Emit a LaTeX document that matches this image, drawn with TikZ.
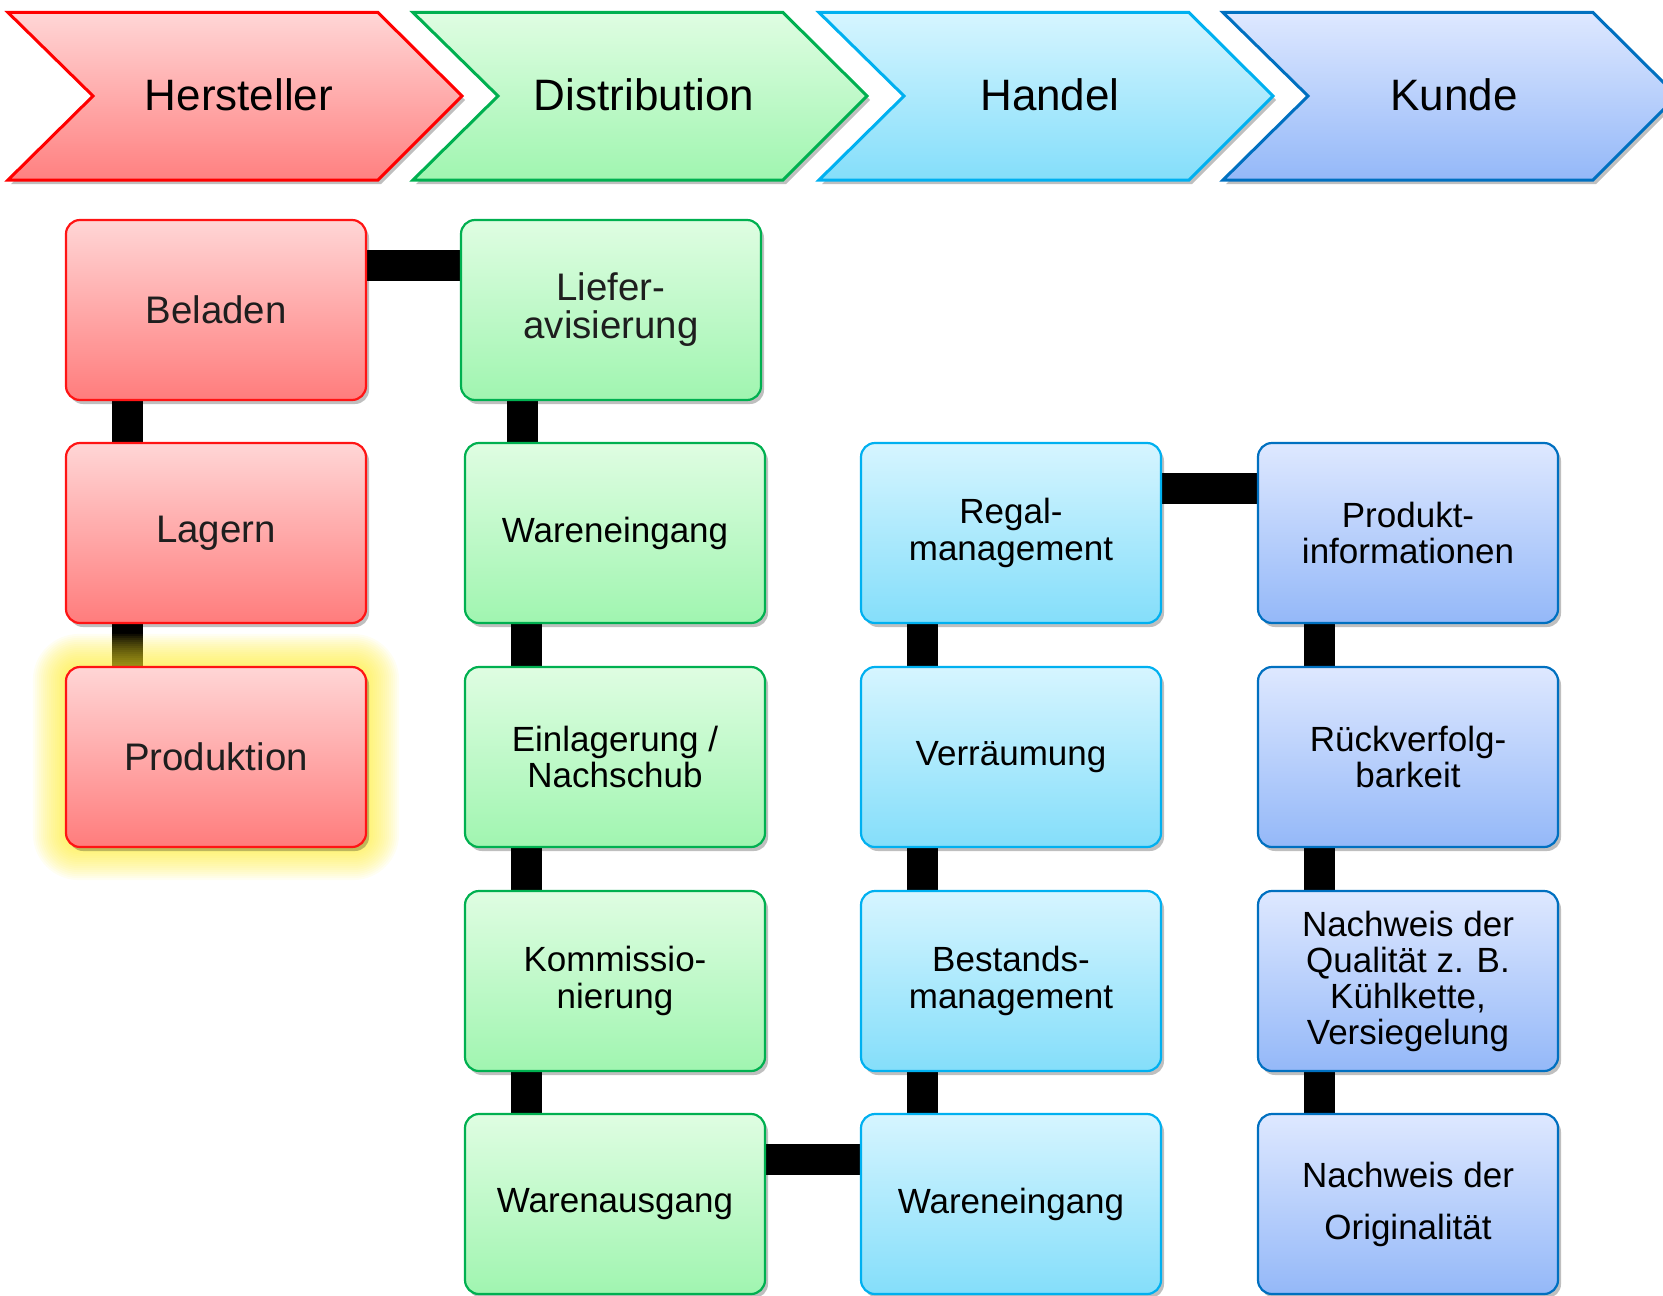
\documentclass[tikz,border=0pt]{standalone}
\usepackage{fontspec}
\setmainfont{Liberation Sans}
\usetikzlibrary{calc,shadows}
\pgfdeclarelayer{bg}
\pgfdeclarelayer{glowlayer}
\pgfsetlayers{bg,glowlayer,main}
\definecolor{rTop}{RGB}{255,214,214}
\definecolor{rBot}{RGB}{255,124,124}
\definecolor{rLine}{RGB}{255,20,20}
\definecolor{gTop}{RGB}{223,253,226}
\definecolor{gBot}{RGB}{160,245,176}
\definecolor{gLine}{RGB}{0,176,80}
\definecolor{cTop}{RGB}{214,245,255}
\definecolor{cBot}{RGB}{132,222,250}
\definecolor{cLine}{RGB}{0,176,240}
\definecolor{bTop}{RGB}{222,232,255}
\definecolor{bBot}{RGB}{148,184,248}
\definecolor{bLine}{RGB}{0,112,192}
\definecolor{rChevBot}{RGB}{255,128,128}
\definecolor{glowc}{RGB}{255,236,40}
\definecolor{softtext}{RGB}{30,30,30}
\newcommand\chevpath[1]{(#1,12.5) -- ++(370,0) -- ++(84,83.5) -- ++(-84,84) -- ++(-370,0) -- ++(85,-84) -- cycle}
\newcommand\myvconn[2]{\draw[bar] ($(#1.south west)!0.207!(#1.south east)$) coordinate (cx) -- (cx |- #2.north);}
\newcommand\myhconn[2]{\draw[bar] ($(#1.north east)!0.256!(#1.south east)$) coordinate (cx) -- (cx -| #2.west);}
\begin{document}
\begin{tikzpicture}[x=0.5pt,y=-0.5pt,
  chev/.style={line width=1.5pt, line join=miter,
    drop shadow={shadow xshift=1.5pt, shadow yshift=-2pt, opacity=0.25, fill=black}},
  chevtext/.style={font=\fontsize{22}{26}\selectfont, inner sep=0pt},
  box/.style={rectangle, rounded corners=7pt, minimum width=150pt, minimum height=90pt,
    line width=1.1pt, align=center, inner sep=2pt,
    font=\fontsize{17.5}{18.3}\selectfont,
    drop shadow={shadow xshift=1.5pt, shadow yshift=-2pt, opacity=0.25, fill=black}},
  bigtext/.style={font=\fontsize{19.2}{19}\selectfont, text=softtext},
  redbox/.style={box, draw=rLine, top color=rTop, bottom color=rBot},
  greenbox/.style={box, draw=gLine, top color=gTop, bottom color=gBot},
  cyanbox/.style={box, draw=cLine, top color=cTop, bottom color=cBot},
  bluebox/.style={box, draw=bLine, top color=bTop, bottom color=bBot},
  bar/.style={line width=15.5pt, black, line cap=butt}]
\useasboundingbox (0,0) rectangle (1663,1295);

% phase chevrons
\path[chev, draw=red, top color=rTop, bottom color=rChevBot] \chevpath{8};
\path[chev, draw=gLine, top color=gTop, bottom color=gBot] \chevpath{413};
\path[chev, draw=cLine, top color=cTop, bottom color=cBot] \chevpath{819};
\path[chev, draw=bLine, top color=bTop, bottom color=bBot] \chevpath{1223};
\node[chevtext] (hersteller) at (239,95) {Hersteller};
\node[chevtext] (distribution) at (644,95) {Distribution};
\node[chevtext] (handel) at (1050,95) {Handel};
\node[chevtext] (kunde) at (1454,95) {Kunde};

% column 1
\node[redbox, bigtext] (beladen) at (216,310) {Beladen};
\node[redbox, bigtext] (lagern) at (216,533) {Lagern};
\node[redbox, bigtext] (produktion) at (216,757) {Produktion};
% column 2
\node[greenbox, bigtext] (liefer) at (611,310) {Liefer-\\avisierung};
\node[greenbox] (wein1) at (615,533) {Wareneingang};
\node[greenbox] (einlag) at (615,757) {Einlagerung /\\Nachschub};
\node[greenbox] (kommi) at (615,981) {Kommissio-\\nierung};
\node[greenbox] (waus) at (615,1204) {Warenausgang};
% column 3
\node[cyanbox] (regal) at (1011,533) {Regal-\\management};
\node[cyanbox] (verr) at (1011,757) {Verräumung};
\node[cyanbox] (bestand) at (1011,981) {Bestands-\\management};
\node[cyanbox] (wein2) at (1011,1204) {Wareneingang};
% column 4
\node[bluebox] (prodinfo) at (1408,533) {Produkt-\\informationen};
\node[bluebox] (rueck) at (1408,757) {Rückverfolg-\\barkeit};
\node[bluebox, font=\fontsize{17.5}{18}\selectfont] (quali) at (1408,981) {Nachweis der\\Qualität z. B.\\Kühlkette,\\Versiegelung};
\node[bluebox, font=\fontsize{17.5}{26}\selectfont] (orig) at (1408,1204) {Nachweis der\\Originalität};

% connectors
\begin{pgfonlayer}{bg}
\myhconn{beladen}{liefer}
\myvconn{beladen}{lagern}
\myvconn{lagern}{produktion}
\myvconn{liefer}{wein1}
\myvconn{wein1}{einlag}
\myvconn{einlag}{kommi}
\myvconn{kommi}{waus}
\myhconn{waus}{wein2}
\myvconn{regal}{verr}
\myvconn{verr}{bestand}
\myvconn{bestand}{wein2}
\myhconn{regal}{prodinfo}
\myvconn{prodinfo}{rueck}
\myvconn{rueck}{quali}
\myvconn{quali}{orig}
\end{pgfonlayer}

% glow around Produktion
\begin{pgfonlayer}{glowlayer}
\foreach \g in {2,4,...,32}{
  \fill[glowc, opacity=0.06, rounded corners={(7+\g*0.5)*1pt}]
    ($(produktion.north west)+(-\g,-\g)$) rectangle ($(produktion.south east)+(\g,\g)$);
}
\end{pgfonlayer}
\end{tikzpicture}
\end{document}
